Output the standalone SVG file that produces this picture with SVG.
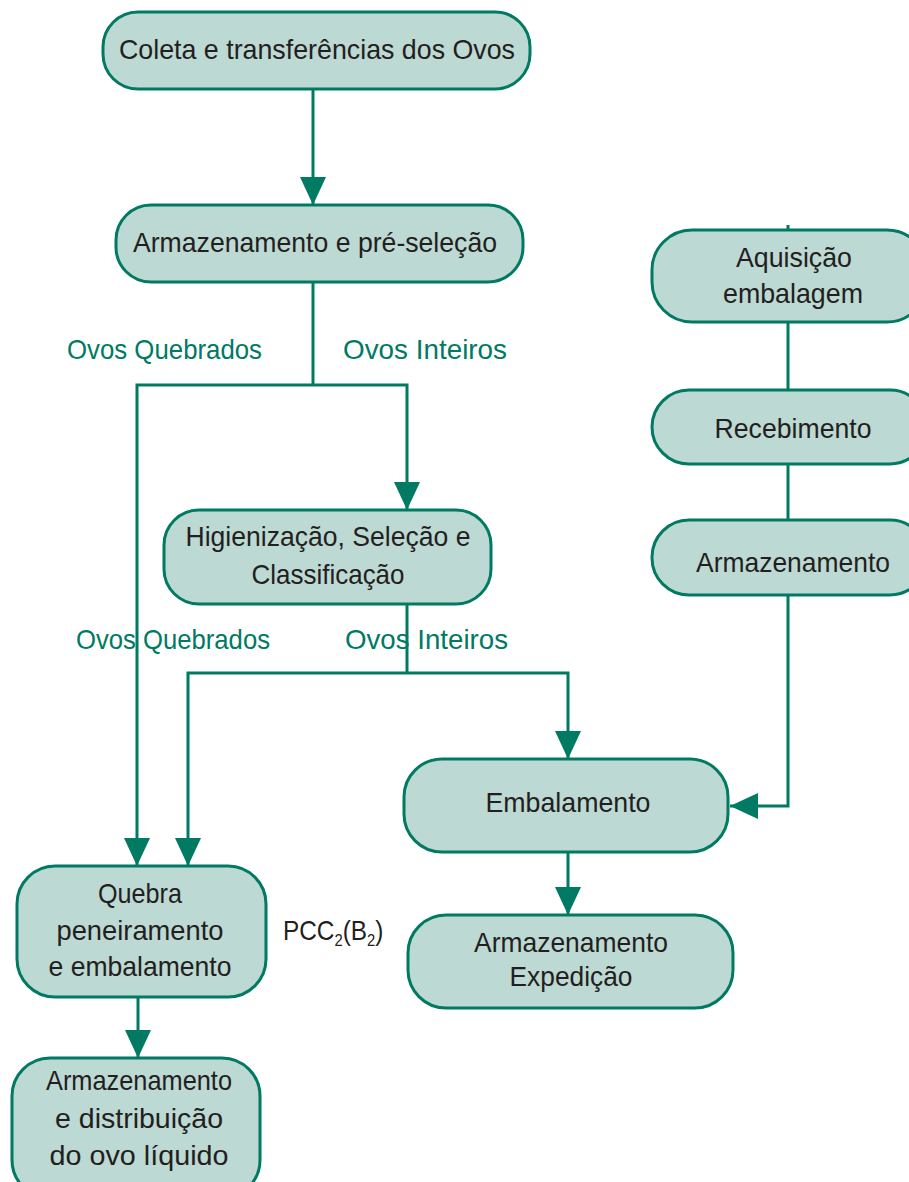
<svg xmlns="http://www.w3.org/2000/svg" width="909" height="1182" viewBox="0 0 909 1182">
<style>
.box{fill:#bdd9d3;stroke:#007a62;stroke-width:3}
.t{font-family:"Liberation Sans",Arial,sans-serif;font-size:28px;fill:#231f20;text-anchor:middle}
.lbl{font-family:"Liberation Sans",Arial,sans-serif;font-size:28px;fill:#007a62}
.c{fill:none;stroke:#007a62;stroke-width:3}
</style>
<defs>
<marker id="ah" viewBox="0 0 28 26" refX="28" refY="13" markerWidth="28" markerHeight="26" markerUnits="userSpaceOnUse" orient="auto">
<path d="M0,0 L28,13 L0,26 Z" fill="#007a62"/>
</marker>
</defs>
<rect width="909" height="1182" fill="#ffffff"/>
<g id="connectors">
<path class="c" d="M313,89 V205" marker-end="url(#ah)"/>
<path class="c" d="M313,282 V385"/>
<path class="c" d="M313,385 H137 V866" marker-end="url(#ah)"/>
<path class="c" d="M313,385 H407 V510" marker-end="url(#ah)"/>
<path class="c" d="M407,604 V673"/>
<path class="c" d="M407,673 H188 V866" marker-end="url(#ah)"/>
<path class="c" d="M407,673 H568 V759" marker-end="url(#ah)"/>
<path class="c" d="M568,852 V915" marker-end="url(#ah)"/>
<path class="c" d="M138,997 V1058" marker-end="url(#ah)"/>
<path class="c" d="M788,225 V230"/>
<path class="c" d="M788,322 V390"/>
<path class="c" d="M788,464 V520"/>
<path class="c" d="M788,595 V806 H730" marker-end="url(#ah)"/>
</g>
<g id="labels">
<text class="lbl" x="67" y="359" textLength="195" lengthAdjust="spacingAndGlyphs">Ovos Quebrados</text>
<text class="lbl" x="343" y="359" textLength="164" lengthAdjust="spacingAndGlyphs">Ovos Inteiros</text>
<text class="lbl" x="76" y="649" textLength="194" lengthAdjust="spacingAndGlyphs">Ovos Quebrados</text>
<text class="lbl" x="345" y="649" textLength="163" lengthAdjust="spacingAndGlyphs">Ovos Inteiros</text>
</g>
<g id="n1">
<rect class="box" x="103" y="12" width="427" height="77" rx="35"/>
<text class="t" x="317" y="59" textLength="396" lengthAdjust="spacingAndGlyphs">Coleta e transferências dos Ovos</text>
</g>
<g id="n2">
<rect class="box" x="116" y="205" width="407" height="77" rx="35"/>
<text class="t" x="315" y="252" textLength="364" lengthAdjust="spacingAndGlyphs">Armazenamento e pré-seleção</text>
</g>
<g id="n3">
<rect class="box" x="164" y="510" width="327" height="94" rx="35"/>
<text class="t" x="328" y="546" textLength="285" lengthAdjust="spacingAndGlyphs">Higienização, Seleção e</text>
<text class="t" x="328" y="584" textLength="153" lengthAdjust="spacingAndGlyphs">Classificação</text>
</g>
<g id="n4">
<rect class="box" x="404" y="759" width="324" height="93" rx="38"/>
<text class="t" x="568" y="812" textLength="165" lengthAdjust="spacingAndGlyphs">Embalamento</text>
</g>
<g id="n5">
<rect class="box" x="408" y="915" width="325" height="93" rx="38"/>
<text class="t" x="571" y="952" textLength="194" lengthAdjust="spacingAndGlyphs">Armazenamento</text>
<text class="t" x="571" y="986" textLength="123" lengthAdjust="spacingAndGlyphs">Expedição</text>
</g>
<g id="n6">
<rect class="box" x="17" y="866" width="249" height="131" rx="38"/>
<text class="t" x="140" y="903" textLength="84" lengthAdjust="spacingAndGlyphs">Quebra</text>
<text class="t" x="140" y="940" textLength="167" lengthAdjust="spacingAndGlyphs">peneiramento</text>
<text class="t" x="140" y="976" textLength="183" lengthAdjust="spacingAndGlyphs">e embalamento</text>
</g>
<g id="pcc" transform="translate(283,940) scale(0.87,1)">
<text class="t" x="0" y="0" style="text-anchor:start">PCC<tspan font-size="17" dy="6">2</tspan><tspan dy="-6">(B</tspan><tspan font-size="17" dy="6">2</tspan><tspan dy="-6">)</tspan></text>
</g>
<g id="n7">
<rect class="box" x="12" y="1058" width="248" height="140" rx="38"/>
<text class="t" x="139" y="1090" textLength="186" lengthAdjust="spacingAndGlyphs">Armazenamento</text>
<text class="t" x="139" y="1128" textLength="168" lengthAdjust="spacingAndGlyphs">e distribuição</text>
<text class="t" x="139" y="1165" textLength="179" lengthAdjust="spacingAndGlyphs">do ovo líquido</text>
</g>
<g id="n8">
<rect class="box" x="652" y="230" width="275" height="92" rx="40"/>
<text class="t" x="794" y="267" textLength="116" lengthAdjust="spacingAndGlyphs">Aquisição</text>
<text class="t" x="793" y="303" textLength="140" lengthAdjust="spacingAndGlyphs">embalagem</text>
</g>
<g id="n9">
<rect class="box" x="652" y="390" width="275" height="74" rx="37"/>
<text class="t" x="793" y="438" textLength="157" lengthAdjust="spacingAndGlyphs">Recebimento</text>
</g>
<g id="n10">
<rect class="box" x="652" y="520" width="275" height="75" rx="37"/>
<text class="t" x="793" y="572" textLength="194" lengthAdjust="spacingAndGlyphs">Armazenamento</text>
</g>
</svg>
